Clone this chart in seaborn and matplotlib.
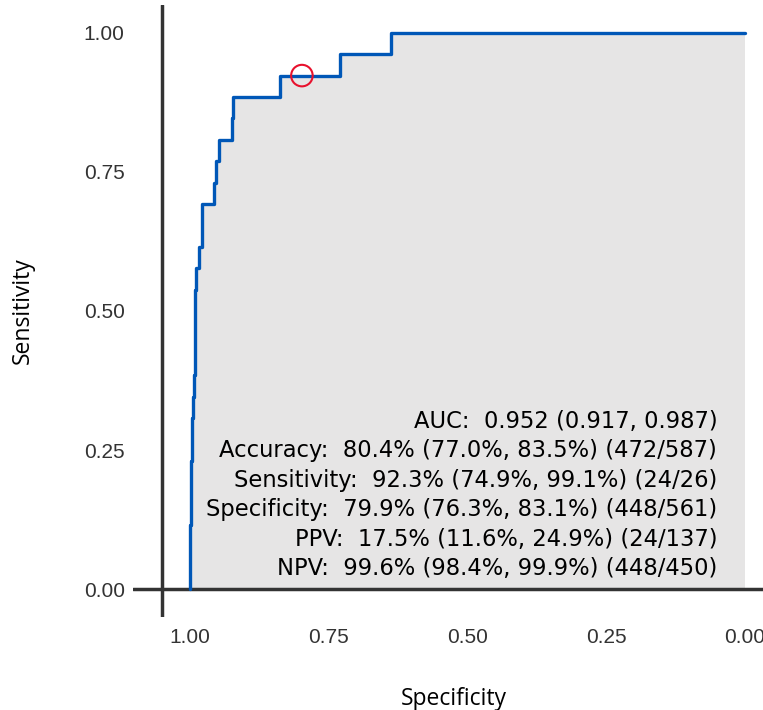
import matplotlib
matplotlib.use("Agg")
import matplotlib.pyplot as plt
import numpy as np
import pandas as pd
import seaborn as sns

# totals of the two classes
n_pos = 26
n_neg = 561

# corners of the ROC step path, as counts of false / true positives
fp_counts = [0, 0, 1, 1, 2, 2, 3, 3, 4, 4, 5, 5, 6, 6, 9, 9, 12, 12, 24, 24,
             26, 26, 29, 29, 42, 42, 43, 43, 91, 91, 152, 152, 203, 203, 561]
tp_counts = [0, 3, 3, 6, 6, 8, 8, 9, 9, 10, 10, 14, 14, 15, 15, 16, 16, 18, 18, 19,
             19, 20, 20, 21, 21, 22, 22, 23, 23, 24, 24, 25, 25, 26, 26]

# chosen threshold
best_spec = 448 / 561
best_sens = 24 / 26

stats_lines = [
    "AUC:  0.952 (0.917, 0.987)",
    "Accuracy:  80.4% (77.0%, 83.5%) (472/587)",
    "Sensitivity:  92.3% (74.9%, 99.1%) (24/26)",
    "Specificity:  79.9% (76.3%, 83.1%) (448/561)",
    "PPV:  17.5% (11.6%, 24.9%) (24/137)",
    "NPV:  99.6% (98.4%, 99.9%) (448/450)",
]

x_ticks = [1.00, 0.75, 0.50, 0.25, 0.00]
y_ticks = [0.00, 0.25, 0.50, 0.75, 1.00]

roc = pd.DataFrame({
    "specificity": 1 - np.array(fp_counts) / n_neg,
    "sensitivity": np.array(tp_counts) / n_pos,
})

sns.set_theme(style="white")
fig = plt.figure(figsize=(7.63, 7.10), dpi=100)
ax = fig.add_axes([0.1743, 0.131, 0.8414, 0.862])

# area under the curve
ax.fill_between(roc["specificity"], roc["sensitivity"], 0,
                color="#e6e5e5", linewidth=0, zorder=1)

sns.lineplot(data=roc, x="specificity", y="sensitivity", sort=False,
             estimator=None, color="#0057b7", linewidth=2.4, ax=ax, zorder=3)

sns.scatterplot(x=[best_spec], y=[best_sens], ax=ax, s=15.5 ** 2,
                facecolor="none", edgecolor="#e8112d", linewidth=1.5, zorder=4)

ax.axhline(0, color="#333333", linewidth=2.5, zorder=2)
ax.axvline(1.05, color="#333333", linewidth=2.5, zorder=2)

ax.text(0.05, 0.169, "\n".join(stats_lines), ha="right", va="center",
        multialignment="right", fontsize=16.3, family="DejaVu Sans",
        linespacing=1.36, color="black", zorder=5)

ax.set_xlim(1.103, -0.054)
ax.set_ylim(-0.05, 1.05)
ax.set_xticks(x_ticks)
ax.set_yticks(y_ticks)
ax.set_xticklabels(["%.2f" % t for t in x_ticks])
ax.set_yticklabels(["%.2f" % t for t in y_ticks])
ax.tick_params(axis="both", length=0, labelsize=15, labelcolor="#333333")
ax.tick_params(axis="x", pad=8)
ax.tick_params(axis="y", pad=6)
for lab in ax.get_xticklabels() + ax.get_yticklabels():
    lab.set_family("Liberation Sans")

for s in ax.spines.values():
    s.set_visible(False)

ax.set_xlabel("Specificity", fontsize=16.5, family="Open Sans", color="black")
ax.set_ylabel("Sensitivity", fontsize=16.5, family="Open Sans", color="black")
ax.xaxis.set_label_coords(0.5, -0.114)
ax.yaxis.set_label_coords(-0.153, 0.5)

fig.savefig("out.png", dpi=100)
plt.close(fig)
